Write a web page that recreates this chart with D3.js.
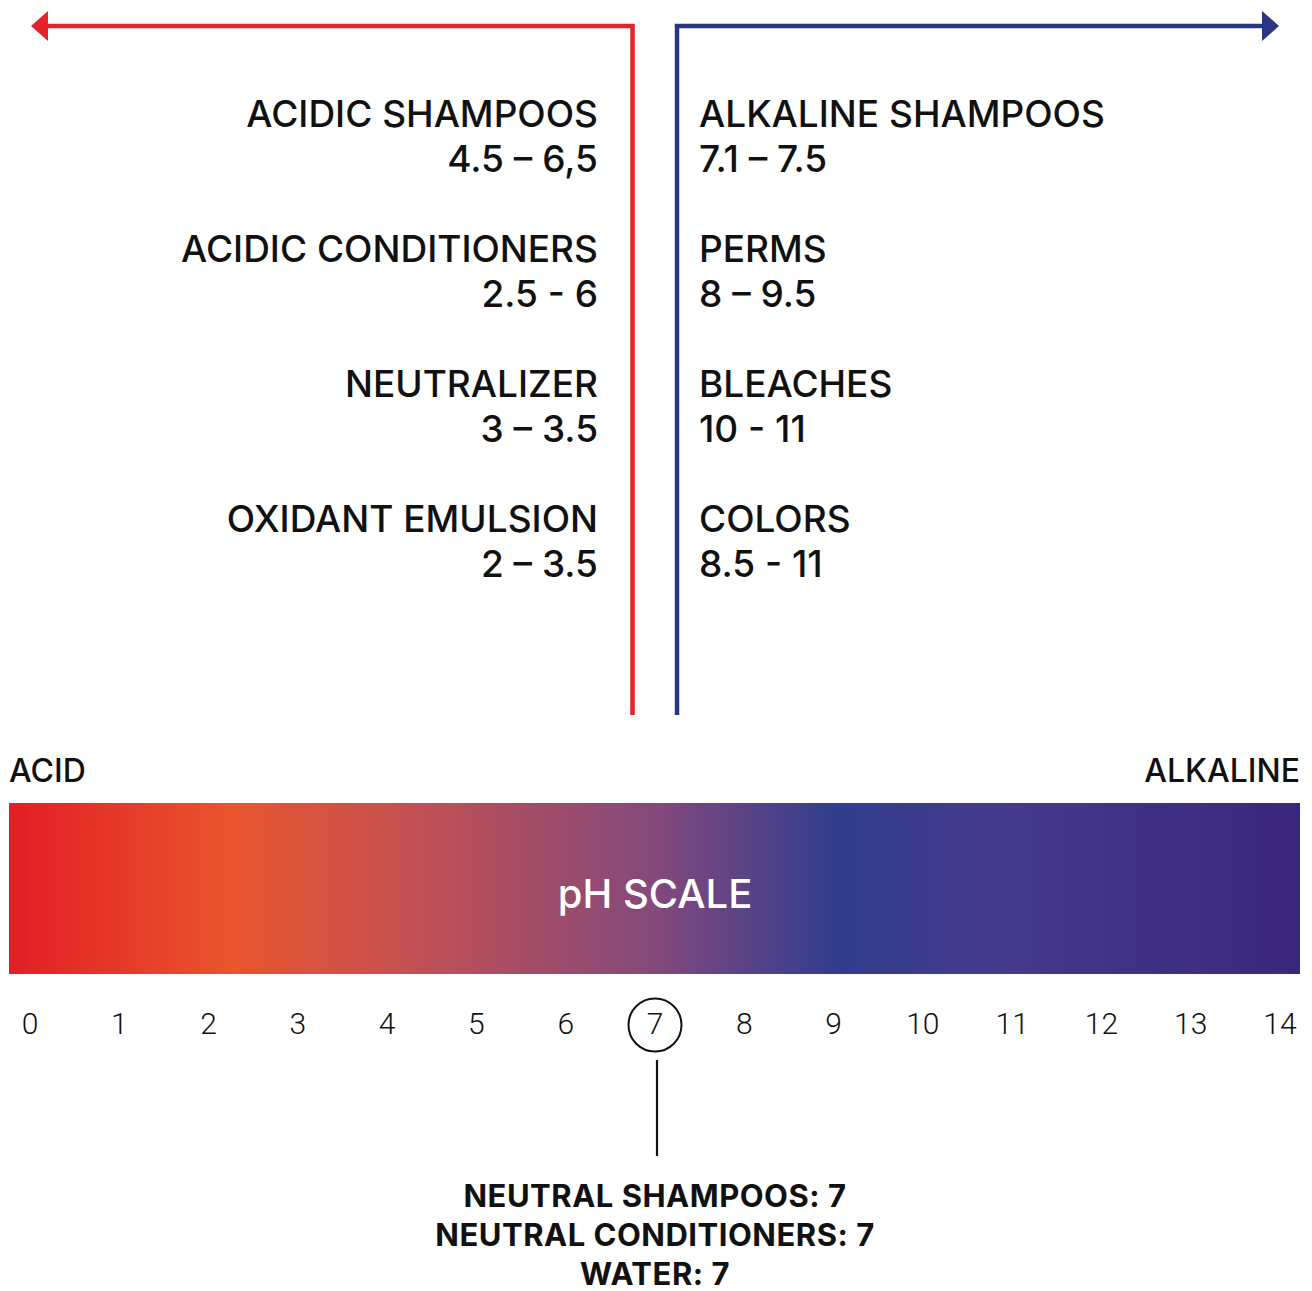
<!DOCTYPE html>
<html>
<head>
<meta charset="utf-8">
<script src="https://cdn.jsdelivr.net/npm/d3@7"></script>
<style>
  body { margin: 0; background: #fff; }
  svg { display: block; }
</style>
</head>
<body>
<svg id="chart" width="1312" height="1291"></svg>
<script>
// pH values and labels
const acidicNames = ['ACIDIC SHAMPOOS', 'ACIDIC CONDITIONERS', 'NEUTRALIZER', 'OXIDANT EMULSION'];
const acidicRanges = ['4.5 – 6,5', '2.5 - 6', '3 – 3.5', '2 – 3.5'];
const alkalineNames = ['ALKALINE SHAMPOOS', 'PERMS', 'BLEACHES', 'COLORS'];
const alkalineRanges = ['7.1 – 7.5', '8 – 9.5', '10 - 11', '8.5 - 11'];
const phTicks = d3.range(0, 15); // 0 .. 14
const neutralValue = 7;
const neutralLines = ['NEUTRAL SHAMPOOS: 7', 'NEUTRAL CONDITIONERS: 7', 'WATER: 7'];

// gradient colour stops (offset along the bar, colour)
const gradOffsets = [0, 0.173, 0.30, 0.50, 0.64, 0.77, 1];
const gradColors = ['#e31e25', '#e9552d', '#c75150', '#84497c', '#313d8e', '#453a8d', '#3a267c'];

const RED = '#e42229';
const BLUE = '#283583';
const FONT = '"Helvetica Neue", Inter, "Liberation Sans", Arial, sans-serif';

const svg = d3.select('#chart');

// scales
const x = d3.scaleLinear().domain([0, 14]).range([30, 1280]);
const rowY = d3.scaleLinear().domain([0, 3]).range([127, 532]);

// gradient definition
const defs = svg.append('defs');
const grad = defs.append('linearGradient').attr('id', 'phGrad')
  .attr('x1', '0%').attr('x2', '100%').attr('y1', '0%').attr('y2', '0%');
grad.selectAll('stop').data(gradOffsets).enter().append('stop')
  .attr('offset', d => d)
  .attr('stop-color', (d, i) => gradColors[i]);

// brackets with arrows
const redX = 632.5, blueX = 677, topY = 26, bottomY = 715;
svg.append('path')
  .attr('d', `M${redX},${bottomY} V${topY} H46`)
  .attr('fill', 'none').attr('stroke', RED).attr('stroke-width', 4.5);
svg.append('path')
  .attr('d', `M31,${topY} L48,${topY - 15} L48,${topY + 15} Z`)
  .attr('fill', RED);
svg.append('path')
  .attr('d', `M${blueX},${bottomY} V${topY} H1264`)
  .attr('fill', 'none').attr('stroke', BLUE).attr('stroke-width', 4.5);
svg.append('path')
  .attr('d', `M1279,${topY} L1262,${topY - 15} L1262,${topY + 15} Z`)
  .attr('fill', BLUE);

// acidic labels (right aligned)
const acid = svg.append('g').attr('font-family', FONT).attr('font-weight', 500)
  .attr('font-size', 37).attr('fill', '#111').attr('text-anchor', 'end');
acid.selectAll('text.name').data(acidicNames).enter().append('text')
  .attr('class', 'name').attr('x', 598).attr('y', (d, i) => rowY(i)).text(d => d);
acid.selectAll('text.range').data(acidicRanges).enter().append('text')
  .attr('class', 'range').attr('x', 598).attr('y', (d, i) => rowY(i) + 45).text(d => d);

// alkaline labels (left aligned)
const alk = svg.append('g').attr('font-family', FONT).attr('font-weight', 500)
  .attr('font-size', 37).attr('fill', '#111').attr('text-anchor', 'start');
alk.selectAll('text.name').data(alkalineNames).enter().append('text')
  .attr('class', 'name').attr('x', 699).attr('y', (d, i) => rowY(i)).text(d => d);
alk.selectAll('text.range').data(alkalineRanges).enter().append('text')
  .attr('class', 'range').attr('x', 699).attr('y', (d, i) => rowY(i) + 45).text(d => d);

// ACID / ALKALINE
svg.append('text').attr('x', 9).attr('y', 782)
  .attr('font-family', FONT).attr('font-weight', 500).attr('font-size', 32)
  .attr('fill', '#111').text('ACID');
svg.append('text').attr('x', 1300).attr('y', 782).attr('text-anchor', 'end')
  .attr('font-family', FONT).attr('font-weight', 500).attr('font-size', 32)
  .attr('fill', '#111').text('ALKALINE');

// gradient bar
svg.append('rect').attr('x', 9).attr('y', 803).attr('width', 1291).attr('height', 171)
  .attr('fill', 'url(#phGrad)');
svg.append('text').attr('x', x(neutralValue)).attr('y', 908).attr('text-anchor', 'middle')
  .attr('font-family', FONT).attr('font-weight', 500).attr('font-size', 40)
  .attr('fill', '#fff').text('pH SCALE');

// tick labels
svg.append('g').attr('font-family', '"Helvetica Neue", Roboto, "Liberation Sans", sans-serif')
  .attr('font-weight', 300).attr('font-size', 30).attr('fill', '#111').attr('text-anchor', 'middle')
  .selectAll('text').data(phTicks).enter().append('text')
  .attr('x', d => x(d)).attr('y', 1034).text(d => d);

// neutral marker
svg.append('circle').attr('cx', x(neutralValue)).attr('cy', 1025).attr('r', 26.5)
  .attr('fill', 'none').attr('stroke', '#111').attr('stroke-width', 2);
svg.append('line').attr('x1', x(neutralValue) + 2).attr('x2', x(neutralValue) + 2)
  .attr('y1', 1060).attr('y2', 1156).attr('stroke', '#111').attr('stroke-width', 2.2);

// neutral labels
svg.append('g').attr('font-family', FONT).attr('font-weight', 700).attr('font-size', 31)
  .attr('letter-spacing', 0.5).attr('fill', '#111').attr('text-anchor', 'middle')
  .selectAll('text').data(neutralLines).enter().append('text')
  .attr('x', x(neutralValue)).attr('y', (d, i) => 1207 + i * 39).text(d => d);
</script>
</body>
</html>
